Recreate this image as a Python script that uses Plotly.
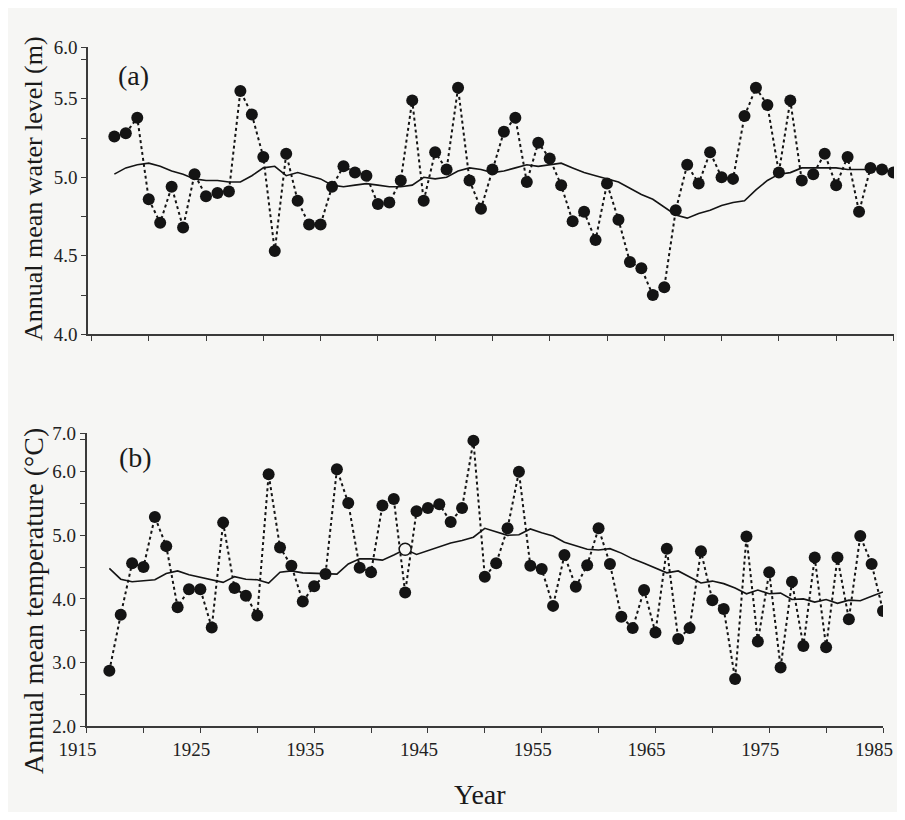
import plotly.graph_objects as go

# The page body has an 8px margin on every side; size the figure so no scrollbars appear
OFF = 8
W, H = 905 - 2 * OFF, 820 - 2 * OFF


def fx(px):
    return (px - OFF) / W


def fy(py):
    return 1 - (py - OFF) / H


# ---------------- data ----------------
level_years = list(range(1917, 1986))
level = [5.26, 5.28, 5.38, 4.86, 4.71, 4.94, 4.68, 5.02, 4.88, 4.90,
         4.91, 5.55, 5.40, 5.13, 4.53, 5.15, 4.85, 4.70, 4.70, 4.94,
         5.07, 5.03, 5.01, 4.83, 4.84, 4.98, 5.49, 4.85, 5.16, 5.05,
         5.57, 4.98, 4.80, 5.05, 5.29, 5.38, 4.97, 5.22, 5.12, 4.95,
         4.72, 4.78, 4.60, 4.96, 4.73, 4.46, 4.42, 4.25, 4.30, 4.79,
         5.08, 4.96, 5.16, 5.00, 4.99, 5.39, 5.57, 5.46, 5.03, 5.49,
         4.98, 5.02, 5.15, 4.95, 5.13, 4.78, 5.06, 5.05, 5.03]

level_mean_years = list(range(1917, 1984))
level_mean = [5.02, 5.06, 5.08, 5.09, 5.07, 5.04, 5.02, 4.99, 4.98, 4.98,
              4.97, 4.97, 5.01, 5.06, 5.07, 5.01, 5.03, 5.01, 4.99, 4.95,
              4.94, 4.95, 4.96, 4.95, 4.94, 4.94, 4.95, 5.00, 4.99, 5.00,
              5.04, 5.06, 5.05, 5.03, 5.04, 5.06, 5.08, 5.07, 5.08, 5.09,
              5.06, 5.03, 5.01, 4.99, 4.97, 4.93, 4.89, 4.86, 4.81, 4.76,
              4.74, 4.77, 4.79, 4.82, 4.84, 4.85, 4.92, 4.98, 5.02, 5.03,
              5.06, 5.06, 5.06, 5.06, 5.05, 5.05, 5.05]

temp_years = list(range(1917, 1986))
temp = [2.87, 3.75, 4.56, 4.50, 5.29, 4.83, 3.87, 4.15, 4.15, 3.55,
        5.20, 4.17, 4.05, 3.74, 5.96, 4.81, 4.52, 3.96, 4.20, 4.39,
        6.04, 5.51, 4.49, 4.42, 5.47, 5.57, 4.10, 5.38, 5.43, 5.49,
        5.21, 5.43, 6.49, 4.35, 4.56, 5.11, 6.00, 4.52, 4.47, 3.89,
        4.69, 4.19, 4.53, 5.11, 4.55, 3.72, 3.54, 4.14, 3.47, 4.79,
        3.37, 3.54, 4.75, 3.98, 3.84, 2.74, 4.98, 3.33, 4.42, 2.92,
        4.27, 3.26, 4.65, 3.24, 4.65, 3.68, 4.99, 4.55, 3.81]

temp_mean = [4.48, 4.31, 4.27, 4.28, 4.30, 4.40, 4.44, 4.38, 4.34, 4.31,
             4.26, 4.35, 4.31, 4.30, 4.25, 4.42, 4.44, 4.41, 4.40, 4.40,
             4.39, 4.55, 4.63, 4.63, 4.61, 4.69, 4.78, 4.70, 4.76, 4.83,
             4.88, 4.92, 4.97, 5.11, 5.05, 5.00, 5.01, 5.10, 5.04, 4.99,
             4.89, 4.84, 4.78, 4.77, 4.79, 4.72, 4.63, 4.56, 4.48, 4.41,
             4.44, 4.35, 4.25, 4.28, 4.24, 4.17, 4.08, 4.14, 4.08, 4.09,
             3.99, 4.00, 3.95, 3.99, 3.93, 3.98, 3.97, 4.04, 4.11]

open_year = 1943

x_ticks = list(range(1915, 1990, 5))
x_labels_b = [str(y) if (y - 1915) % 10 == 0 else "" for y in x_ticks]

ya_ticks = [4.0, 4.25, 4.5, 4.75, 5.0, 5.25, 5.5, 5.75, 5.826]
ya_labels = ["4.0", "", "4.5", "", "5.0", "", "5.5", "", "6.0"]
yb_ticks = [2.0, 2.5, 3.0, 3.5, 4.0, 4.5, 5.0, 5.5, 6.0, 6.5, 6.605]
yb_labels = ["2.0", "", "3.0", "", "4.0", "", "5.0", "", "6.0", "", "7.0"]

# ---------------- figure ----------------
INK = "#141414"
AX = "#3a3a3a"
BG = "#f6f6f4"
FONT = "Liberation Serif"

fig = go.Figure()

fig.add_trace(go.Scatter(x=level_years, y=level, mode="lines+markers",
                         line=dict(color=INK, width=2, dash="dot"),
                         marker=dict(size=12, color=INK),
                         xaxis="x", yaxis="y", showlegend=False))
fig.add_trace(go.Scatter(x=level_mean_years, y=level_mean, mode="lines",
                         line=dict(color=INK, width=1.6),
                         xaxis="x", yaxis="y", showlegend=False))

fig.add_trace(go.Scatter(x=temp_years, y=temp, mode="lines+markers",
                         line=dict(color=INK, width=2, dash="dot"),
                         marker=dict(size=12, color=INK),
                         xaxis="x2", yaxis="y2", showlegend=False))
fig.add_trace(go.Scatter(x=temp_years, y=temp_mean, mode="lines",
                         line=dict(color=INK, width=1.6),
                         xaxis="x2", yaxis="y2", showlegend=False))
fig.add_trace(go.Scatter(x=[open_year], y=[temp_mean[temp_years.index(open_year)]],
                         mode="markers",
                         marker=dict(size=12, color=BG, line=dict(color=INK, width=1.5)),
                         xaxis="x2", yaxis="y2", showlegend=False))

axis_common = dict(showline=True, linecolor=AX, linewidth=1.5, showgrid=False,
                   zeroline=False, ticks="outside", ticklen=5, tickwidth=1.2,
                   tickcolor=AX, tickmode="array",
                   tickfont=dict(family=FONT, size=19, color="#222"),
                   automargin=False)

fig.update_layout(
    width=W, height=H,
    margin=dict(l=0, r=0, t=0, b=0),
    paper_bgcolor=BG, plot_bgcolor=BG,
    font=dict(family=FONT, color="#222"),
    xaxis=dict(axis_common, domain=[fx(88), fx(894)], range=[1914.7, 1985.05],
               tickvals=x_ticks, ticktext=[""] * len(x_ticks), anchor="y"),
    yaxis=dict(axis_common, domain=[fy(334.3), fy(47)], range=[4.0, 5.83],
               tickvals=ya_ticks, ticktext=ya_labels, anchor="x"),
    xaxis2=dict(axis_common, domain=[fx(86.6), fx(883)], range=[1915, 1985],
                tickvals=x_ticks, ticktext=x_labels_b, anchor="y2",
                ticklabelshift=-9),
    yaxis2=dict(axis_common, domain=[fy(726), fy(433)], range=[2.0, 6.61],
                tickvals=yb_ticks, ticktext=yb_labels, anchor="x2"),
)

common_ann = dict(xref="paper", yref="paper", showarrow=False,
                  xanchor="center", yanchor="middle")
fig.add_annotation(x=fx(33), y=fy(189), text="Annual mean water level (m)",
                   textangle=-90, font=dict(family=FONT, size=26, color="#1a1a1a"),
                   **common_ann)
fig.add_annotation(x=fx(33), y=fy(601), text="Annual mean temperature (°C)",
                   textangle=-90, font=dict(family=FONT, size=28, color="#1a1a1a"),
                   **common_ann)
fig.add_annotation(x=fx(480), y=fy(794), text="Year",
                   font=dict(family=FONT, size=28, color="#1a1a1a"), **common_ann)
fig.add_annotation(x=fx(133), y=fy(75), text="(a)",
                   font=dict(family=FONT, size=28, color="#1a1a1a"), **common_ann)
fig.add_annotation(x=fx(135), y=fy(458), text="(b)",
                   font=dict(family=FONT, size=28, color="#1a1a1a"), **common_ann)

fig.write_html("out.html")
